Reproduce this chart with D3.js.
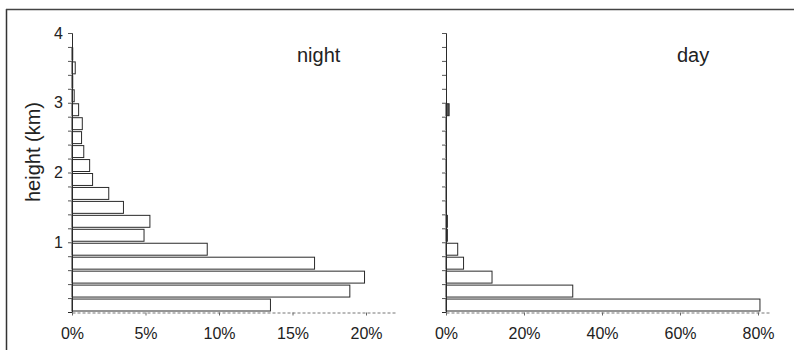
<!DOCTYPE html>
<html>
<head>
<meta charset="utf-8">
<script src="https://cdn.jsdelivr.net/npm/d3@7"></script>
<style>
  body { margin: 0; background: #fff; }
  svg { display: block; font-family: "Liberation Sans", Arial, sans-serif; }
</style>
</head>
<body>
<svg width="794" height="356"></svg>
<script>
// height bins, lower edge in km (each bin 0.2 km)
const binStarts = [0, 0.2, 0.4, 0.6, 0.8, 1.0, 1.2, 1.4, 1.6, 1.8,
                   2.0, 2.2, 2.4, 2.6, 2.8, 3.0, 3.2, 3.4, 3.6, 3.8];
const binWidth = 0.2;
// share of echoes per bin (%)
const nightValues = [13.5, 18.9, 19.9, 16.5, 9.2, 4.9, 5.3, 3.5, 2.5, 1.4,
                     1.2, 0.8, 0.65, 0.7, 0.45, 0.15, 0.05, 0.22, 0.05, 0];
const dayValues = [80.5, 32.5, 11.8, 4.5, 3.0, 0.35, 0.35, 0.1, 0.1, 0.05,
                   0.05, 0.05, 0.05, 0.05, 0.8, 0, 0, 0, 0, 0];
const heightTicks = [0.2, 0.4, 0.6, 0.8, 1, 1.2, 1.4, 1.6, 1.8, 2,
                     2.2, 2.4, 2.6, 2.8, 3, 3.2, 3.4, 3.6, 3.8, 4];
const nightTicks = [0, 5, 10, 15, 20];
const dayTicks = [0, 20, 40, 60, 80];

const svg = d3.select("svg");
const ink = "#2a2a2a";

// frame left + top (scanned figure border)
svg.append("line").attr("x1", 6.5).attr("x2", 6.5).attr("y1", 9).attr("y2", 350)
  .attr("stroke", "#333").attr("stroke-width", 1.5);
svg.append("line").attr("x1", 6).attr("x2", 794).attr("y1", 9.5).attr("y2", 9.5)
  .attr("stroke", "#444").attr("stroke-width", 1.5);

const y = d3.scaleLinear().domain([0, 4]).range([312, 33]);

const panels = [
  { name: "night", values: nightValues, ticks: nightTicks, labels: true, tinyFill: false,
    x: d3.scaleLinear().domain([0, 22]).range([72, 72 + 22 * 14.7]), titleX: 297 },
  { name: "day", values: dayValues, ticks: dayTicks, labels: false, tinyFill: true,
    x: d3.scaleLinear().domain([0, 83]).range([446, 446 + 83 * 3.9]), titleX: 677 }
];

panels.forEach(p => {
  const g = svg.append("g");
  const x0 = p.x(0);

  // bars
  g.selectAll("rect.bar")
    .data(binStarts.map((b, i) => ({ lo: b, v: p.values[i] })).filter(d => d.v > 0))
    .enter()
    .append("rect")
    .attr("class", "bar")
    .attr("x", x0)
    .attr("y", d => y(d.lo + binWidth) + 1)
    .attr("width", d => p.x(d.v) - x0)
    .attr("height", d => y(d.lo) - y(d.lo + binWidth) - 2)
    .attr("fill", d => p.tinyFill && (p.x(d.v) - x0) < 4 ? "#555" : "#fff")
    .attr("stroke", ink)
    .attr("stroke-width", 1);

  // y axis
  const yAxis = d3.axisLeft(y)
    .tickValues(heightTicks)
    .tickSize(4)
    .tickPadding(5)
    .tickFormat(d => p.labels && Number.isInteger(d) ? d : "");
  const ya = g.append("g").attr("transform", `translate(${x0},0)`).call(yAxis);
  ya.select(".domain").attr("stroke", ink);
  ya.selectAll(".tick line").attr("stroke", "#555");
  ya.selectAll("text").attr("font-size", 16).attr("fill", "#222")
    .attr("font-family", "'Liberation Sans', Arial, sans-serif");

  // x axis
  const xAxis = d3.axisBottom(p.x)
    .tickValues(p.ticks)
    .tickSize(3)
    .tickPadding(12)
    .tickSizeOuter(0)
    .tickFormat(d => d + "%");
  const xa = g.append("g").attr("transform", "translate(0,312.5)").call(xAxis);
  xa.select(".domain").attr("stroke", "#777").attr("stroke-dasharray", "3,2");
  xa.selectAll(".tick line").attr("stroke", "#666");
  xa.selectAll("text").attr("font-size", 16).attr("fill", "#222")
    .attr("font-family", "'Liberation Sans', Arial, sans-serif");

  // panel title
  g.append("text")
    .attr("x", p.titleX)
    .attr("y", 62)
    .attr("font-size", 20)
    .attr("fill", "#222")
    .text(p.name);
});

// y axis title
svg.append("text")
  .attr("transform", "translate(40,152) rotate(-90)")
  .attr("text-anchor", "middle")
  .attr("font-size", 20)
  .attr("fill", "#222")
  .text("height (km)");
</script>
</body>
</html>
